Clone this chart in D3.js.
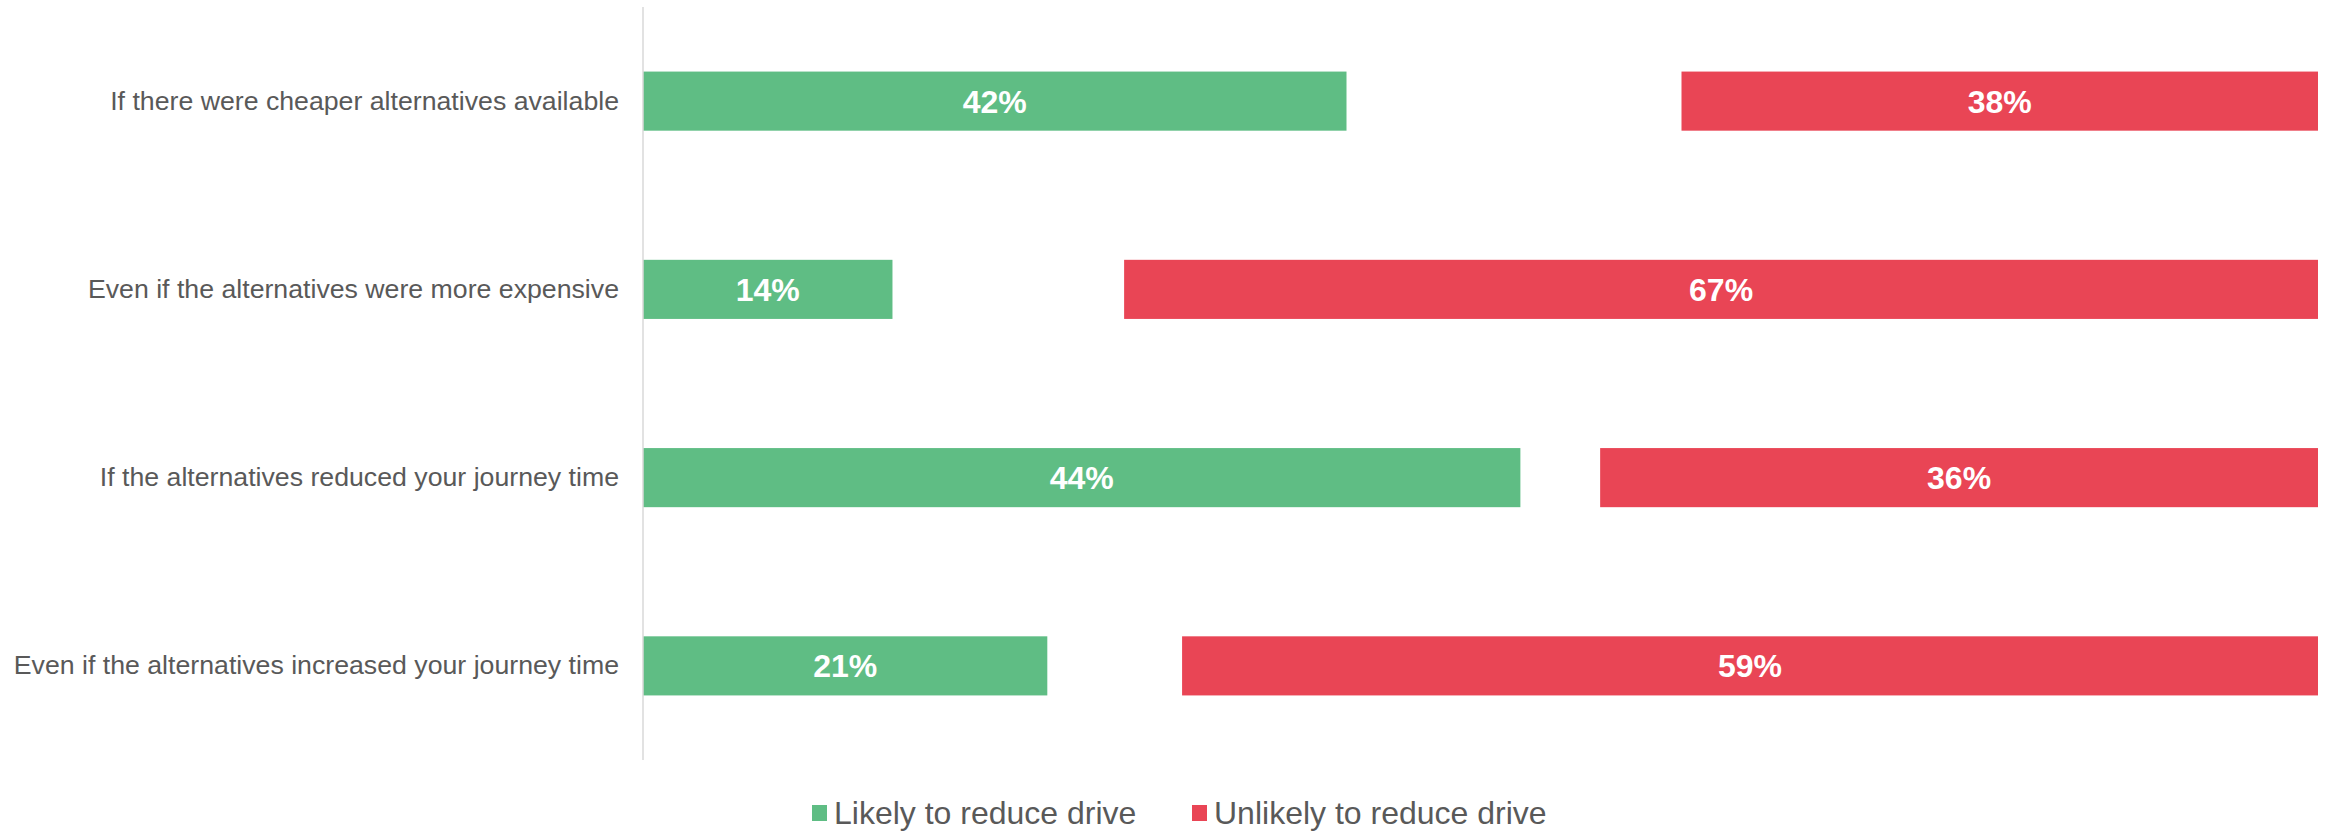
<!DOCTYPE html>
<html>
<head>
<meta charset="utf-8">
<script src="https://cdn.jsdelivr.net/npm/d3@7"></script>
<style>
  html, body { margin: 0; padding: 0; background: #fff; }
  svg { display: block; font-family: "Liberation Sans", Arial, sans-serif; }
</style>
</head>
<body>
<svg id="chart" width="2328" height="832"></svg>
<script>
// Survey statements, top to bottom
const categories = [
  "If there were cheaper alternatives available",
  "Even if the alternatives were more expensive",
  "If the alternatives reduced your journey time",
  "Even if the alternatives increased your journey time"
];
// Share of respondents (%) per statement
const likely   = [42, 14, 44, 21];
const neither  = [20, 13, 4, 7];   // middle group, left unfilled
const unlikely = [38, 67, 36, 59];

const seriesNames = ["Likely to reduce drive", "Neither", "Unlikely to reduce drive"];
const seriesColors = ["#5fbd84", "none", "#e94555"];

const rows = categories.map((c, i) => ({
  category: c,
  "Likely to reduce drive": likely[i],
  "Neither": neither[i],
  "Unlikely to reduce drive": unlikely[i]
}));

const svg = d3.select("#chart");
const margin = { top: 7, right: 10, bottom: 72, left: 643 };
const W = +svg.attr("width"), H = +svg.attr("height");

const x = d3.scaleLinear().domain([0, 1]).range([margin.left, W - margin.right]);
const y = d3.scaleBand().domain(categories).range([margin.top, H - margin.bottom]).paddingInner(0.686).paddingOuter(0.343);

// 100% stacked layout
const stack = d3.stack().keys(seriesNames).offset(d3.stackOffsetExpand);
const layers = stack(rows);
const raw = { "Likely to reduce drive": likely, "Neither": neither, "Unlikely to reduce drive": unlikely };

const g = svg.append("g");
layers.forEach((layer, li) => {
  if (seriesColors[li] === "none") return;
  const grp = g.append("g");
  grp.selectAll("rect")
    .data(layer)
    .join("rect")
    .attr("x", d => x(d[0]))
    .attr("y", d => y(d.data.category))
    .attr("width", d => x(d[1]) - x(d[0]))
    .attr("height", y.bandwidth())
    .attr("fill", seriesColors[li]);
  grp.selectAll("text")
    .data(layer)
    .join("text")
    .attr("x", d => (x(d[0]) + x(d[1])) / 2)
    .attr("y", d => y(d.data.category) + y.bandwidth() / 2)
    .attr("dy", "0.36em")
    .attr("text-anchor", "middle")
    .attr("fill", "#ffffff")
    .attr("font-weight", "bold")
    .attr("font-size", 32)
    .text((d, i) => raw[layer.key][i] + "%");
});

// Category axis
const yAxis = svg.append("g")
  .attr("transform", `translate(${margin.left},0)`)
  .call(d3.axisLeft(y).tickSize(0).tickPadding(24));
yAxis.select(".domain").attr("stroke", "#d9d9d9").attr("stroke-width", 1.5)
  .attr("d", `M0,${margin.top}V${H - margin.bottom}`);
yAxis.selectAll("text")
  .attr("font-size", 26.7)
  .attr("fill", "#595959")
  .attr("font-family", "'Liberation Sans', Arial, sans-serif");

// Legend
const legendItems = [
  { name: "Likely to reduce drive", color: seriesColors[0], x: 812 },
  { name: "Unlikely to reduce drive", color: seriesColors[2], x: 1192 }
];
const legend = svg.append("g");
legendItems.forEach(item => {
  legend.append("rect")
    .attr("x", item.x).attr("y", 805)
    .attr("width", 15).attr("height", 16)
    .attr("fill", item.color);
  legend.append("text")
    .attr("x", item.x + 22).attr("y", 812)
    .attr("dy", "0.36em")
    .attr("font-size", 32)
    .attr("fill", "#595959")
    .text(item.name);
});
</script>
</body>
</html>
